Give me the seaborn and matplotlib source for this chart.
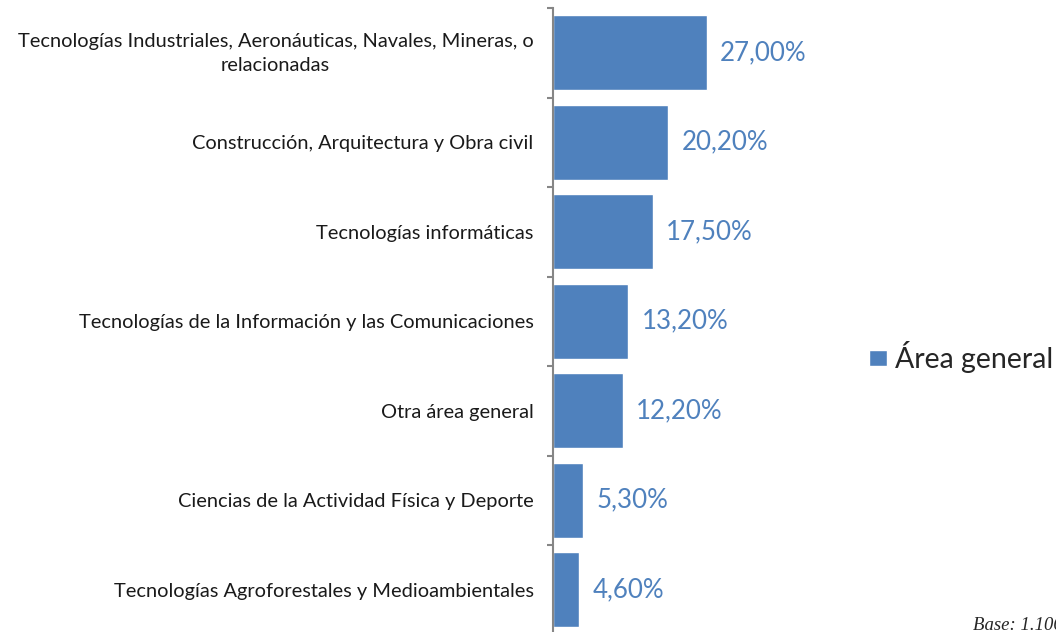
import matplotlib
matplotlib.use("Agg")
import matplotlib.pyplot as plt
import matplotlib.transforms as mtransforms
import seaborn as sns
import pandas as pd
import numpy as np

categories = [
    "Tecnologías Industriales, Aeronáuticas, Navales, Mineras, o\nrelacionadas",
    "Construcción, Arquitectura y Obra civil",
    "Tecnologías informáticas",
    "Tecnologías de la Información y las Comunicaciones",
    "Otra área general",
    "Ciencias de la Actividad Física y Deporte",
    "Tecnologías Agroforestales y Medioambientales",
]
values = [27.0, 20.2, 17.5, 13.2, 12.2, 5.3, 4.6]
value_labels = ["27,00%", "20,20%", "17,50%", "13,20%", "12,20%", "5,30%", "4,60%"]
series_name = "Área general"
base_text = "Base: 1.106"

sns.set_style("white")
plt.rcParams['font.family'] = ['Lato', 'DejaVu Sans']

bar_color = "#4F81BD"
W, H = 1056, 632
fig = plt.figure(figsize=(W / 100, H / 100), dpi=100)
band = 89.5
top = 8
bottom_px = top + band * 7
ax = fig.add_axes([553 / W, 1 - bottom_px / H, (860 - 553) / W, (bottom_px - top) / H])

df = pd.DataFrame({"cat": categories, "val": values, "serie": series_name})
sns.barplot(data=df, x="val", y="cat", hue="serie", palette=[bar_color],
            orient="h", width=0.84, ax=ax, legend=True, saturation=1)

px_per_pct = (707 - 553) / 27.0
ax.set_xlim(0, (860 - 553) / px_per_pct)
ax.set_ylim(6.5, -0.5)

for i, (v, lab) in enumerate(zip(values, value_labels)):
    ax.annotate(lab, (v, i), xytext=(9.5, 0), textcoords="offset points",
                va="center", ha="left", fontsize=18.6, color=bar_color)

ax.set_xlabel("")
ax.set_ylabel("")
ax.set_xticks([])
for s in ["top", "right", "bottom"]:
    ax.spines[s].set_visible(False)
ax.spines["left"].set_color("#868686")
ax.spines["left"].set_linewidth(1.5)

ax.tick_params(axis="y", which="major", left=True, length=0, pad=14, labelsize=14.4, labelcolor="#1a1a1a")
ax.set_yticks(np.arange(-0.5, 7.0, 1.0), minor=True)
ax.tick_params(axis="y", which="minor", left=True, length=4.5, width=1.5, color="#868686", direction="out")
shift = mtransforms.ScaledTranslation(0, 4 / 100, fig.dpi_scale_trans)
for t in ax.get_yticklabels():
    t.set_multialignment("center")
    t.set_linespacing(1.5)
    if "\n" in t.get_text():
        t.set_transform(t.get_transform() + shift)

leg = ax.legend(loc="center left", bbox_to_anchor=(869 / W, 1 - 357 / H),
                bbox_transform=fig.transFigure, frameon=False, fontsize=20.5,
                handlelength=0.62, handleheight=0.47, handletextpad=0.3,
                borderpad=0, borderaxespad=0)

fig.text(973 / W, 1 - 630 / H, base_text, fontsize=13.5, style="italic",
         family=["Liberation Serif", "DejaVu Serif"], ha="left", va="baseline")

fig.savefig("out.png", dpi=100)
